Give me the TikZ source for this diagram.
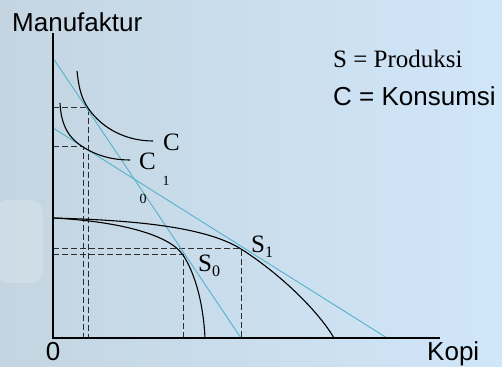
\documentclass[tikz,border=0pt]{standalone}
\usepackage{fontspec}
\setmainfont{Liberation Serif}
\setsansfont{Liberation Sans}
\usetikzlibrary{positioning,calc}
\definecolor{bgleft}{RGB}{196,213,225}
\definecolor{bgright}{RGB}{208,230,249}
\definecolor{pricecol}{RGB}{84,178,204}
\definecolor{guidecol}{RGB}{45,45,45}
\newcommand{\subdig}[1]{\raisebox{-5pt}{\fontsize{16}{18}\selectfont #1}}

\begin{document}
\begin{tikzpicture}[x=1pt, y=1pt,
    axis/.style={line width=1.1pt, black},
    curve/.style={line width=1.1pt, black},
    price/.style={line width=0.9pt, pricecol},
    guide/.style={line width=1pt, guidecol, dash pattern=on 6pt off 3pt},
    lab/.style={inner sep=0pt, anchor=base west},
    big/.style={font=\fontsize{25}{28}\selectfont},
    bigsans/.style={font=\sffamily\fontsize{26}{29}\selectfont},
    small/.style={font=\fontsize{14}{16}\selectfont},
]
\useasboundingbox (-53,-28) rectangle (449,338);
\fill[left color=bgleft, right color=bgright] (-53,-28) rectangle (449,338);
\fill[white, opacity=0.18, rounded corners=12pt] (-58,55) rectangle (-10,138);

% points
\coordinate (O) at (0,0);
\coordinate (ytop) at (0,305);
\coordinate (xend) at (387,0);
\coordinate (ppf) at (0,120);
\coordinate (S0) at (130,83);
\coordinate (S1) at (188,89);
\coordinate (E0) at (35,230);
\coordinate (E1) at (30,191);
\coordinate (A0) at (0,280);
\coordinate (A1) at (188,0);
\coordinate (B0) at (0,210);
\coordinate (B1) at (334,0);

% dashed guides
\draw[guide] (E0 -| O) -- (E0) -- (E0 |- O);
\draw[guide] (E1 -| O) -- (E1) -- (E1 |- O);
\draw[guide] (S0 -| O) -- (S0) -- (S0 |- O);
\draw[guide] (S1 -| O) -- (S1) -- (S1 |- O);

% price lines
\draw[price] (A0) -- (A1);
\draw[price] (B0) -- (B1);

% production possibility curves
\draw[curve] (ppf) .. controls (60,117) and (115,105) .. (S0)
    .. controls (140,68) and (150,40) .. (152,0);
\draw[curve] (ppf) .. controls (70,118) and (150,113) .. (S1)
    .. controls (220,69) and (262,32) .. (281,0);

% indifference curves
\draw[curve] (24,267) .. controls (26,248) and (29,239) .. (E0)
    .. controls (50,208) and (75,197) .. (100,197);
\draw[curve] (7,235) .. controls (8,215) and (14,201) .. (E1)
    .. controls (46,181) and (62,178) .. (77,178);

% axes
\draw[axis] (ytop) -- (O) -- (xend);

% labels
\node[lab, bigsans] (ylab) at (-41,306) {Manufaktur};
\node[lab, bigsans, anchor=base] (zero) at (0,-22) {0};
\node[lab, bigsans] (xlab) at (374,-22) {Kopi};
\node[lab, big] (keyS) at (280,270) {S = Produksi};
\node[lab, bigsans] (keyC) at (280,232) {C = Konsumsi};
\node[lab, big] (cz) at (110,187) {C};
\node[lab, big] (co) at (86,168) {C};
\node[small, inner sep=0pt] (co1) at (113,157) {1};
\node[small, inner sep=0pt] (cz0) at (90,139) {0};
\node[lab, big] (s0lab) at (145,66) {S\subdig{0}};
\node[lab, big] (s1lab) at (198,85) {S\subdig{1}};
\end{tikzpicture}
\end{document}
